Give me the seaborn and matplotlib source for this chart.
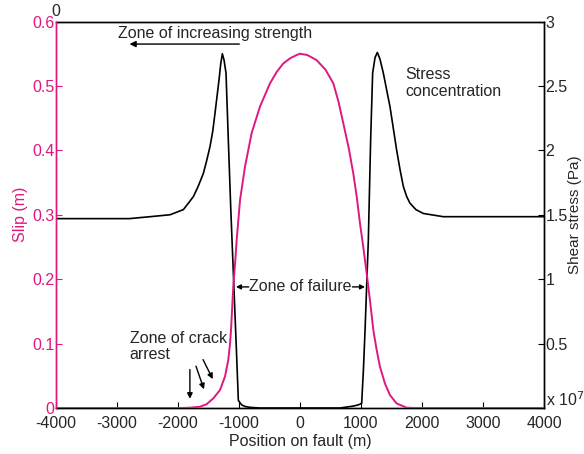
import numpy as np
import pandas as pd
import matplotlib
matplotlib.use("Agg")
import matplotlib.pyplot as plt
import seaborn as sns

# Slip along the fault (m)
slip_x = [-4000, -2500, -1950, -1803, -1639, -1530, -1421, -1311, -1229, -1175,
          -1147, -1131, -1093, -1060, -1038, -983, -901, -792, -656, -492, -380,
          -273, -160, -55, 0, 120, 273, 420, 546, 630, 710, 800, 874, 930, 983,
          1040, 1093, 1150, 1202, 1257, 1311, 1393, 1475, 1585, 1749, 1900, 4000]
slip_y = [0.0, 0.0, 0.0, 0.0005, 0.002, 0.006, 0.015, 0.028, 0.049, 0.075,
          0.1, 0.121, 0.19, 0.23, 0.261, 0.323, 0.375, 0.427, 0.468, 0.504, 0.522,
          0.535, 0.543, 0.548, 0.55, 0.548, 0.540, 0.525, 0.504, 0.476, 0.442, 0.403, 0.364, 0.328, 0.287,
          0.248, 0.209, 0.165, 0.121, 0.09, 0.064, 0.038, 0.02, 0.007, 0.0005, 0.0, 0.0]

# Shear stress along the fault (x 1e7 Pa)
stress_x = [-4000, -2800, -2459, -2131, -1912, -1830, -1749, -1670, -1585, -1530, -1475,
            -1430, -1393, -1360, -1327, -1300, -1273, -1245, -1213, -1175, -1136,
            -1093, -1049, -1011, -990, -956, -900, -820, -656,
            656, 800, 874, 960, 1011, 1040, 1066, 1120, 1158, 1191, 1230, 1268, 1310,
            1366, 1420, 1475, 1530, 1585, 1640, 1694, 1750, 1803, 1900, 2022,
            2350, 4000]
stress_y = [1.47, 1.47, 1.485, 1.50, 1.54, 1.59, 1.64, 1.72, 1.82, 1.92, 2.03,
            2.15, 2.29, 2.42, 2.55, 2.67, 2.75, 2.70, 2.60, 2.08, 1.56,
            1.05, 0.53, 0.06, 0.045, 0.024, 0.012, 0.005, 0.0,
            0.0, 0.01, 0.015, 0.025, 0.036, 0.3, 0.6, 1.30, 2.08, 2.60, 2.72, 2.76, 2.71,
            2.60, 2.47, 2.34, 2.17, 2.0, 1.85, 1.72, 1.64, 1.59, 1.54, 1.51,
            1.485, 1.485]

x_ticks = [-4000, -3000, -2000, -1000, 0, 1000, 2000, 3000, 4000]
slip_ticks = [0, 0.1, 0.2, 0.3, 0.4, 0.5, 0.6]
slip_labels = ["0", "0.1", "0.2", "0.3", "0.4", "0.5", "0.6"]
stress_ticks = [0, 0.5, 1, 1.5, 2, 2.5, 3]
stress_labels = ["", "0.5", "1", "1.5", "2", "2.5", "3"]

MAGENTA = "#E0177F"

sns.set_theme(style="white")
plt.rcParams["font.family"] = ["Liberation Sans", "DejaVu Sans"]
plt.rcParams["xtick.direction"] = "in"
plt.rcParams["ytick.direction"] = "in"

fig = plt.figure(figsize=(5.84, 4.54), dpi=100)
ax = fig.add_axes([0.0959, 0.1013, 0.8356, 0.8513])
ax2 = ax.twinx()

slip_df = pd.DataFrame({"x": slip_x, "slip": slip_y})
stress_df = pd.DataFrame({"x": stress_x, "stress": stress_y})

sns.lineplot(data=stress_df, x="x", y="stress", ax=ax2, color="black", lw=1.2)
sns.lineplot(data=slip_df, x="x", y="slip", ax=ax, color=MAGENTA, lw=1.4, zorder=5)
ax.set_zorder(ax2.get_zorder() + 1)
ax.patch.set_visible(False)

ax.set_xlim(-4000, 4000)
ax.set_ylim(0, 0.6)
ax2.set_ylim(0, 3)

fs = 11.5
ax.set_xticks(x_ticks)
ax.set_xticklabels([str(v) for v in x_ticks], fontsize=fs)
ax.set_yticks(slip_ticks)
ax.set_yticklabels(slip_labels, fontsize=fs, color=MAGENTA)
ax2.set_yticks(stress_ticks)
ax2.set_yticklabels(stress_labels, fontsize=fs)

ax.tick_params(axis="x", length=4, width=0.8, color="black", pad=6, bottom=True)
ax.tick_params(axis="y", length=4, width=0.8, color=MAGENTA, pad=1, left=True)
ax2.tick_params(axis="y", length=4, width=0.8, color="black", pad=1, right=True)

for a in (ax, ax2):
    for s in a.spines.values():
        s.set_linewidth(1.0)
        s.set_color("black")
ax.spines["left"].set_color(MAGENTA)
ax2.spines["left"].set_color(MAGENTA)
ax.spines["left"].set_zorder(10)

ax.set_xlabel("Position on fault (m)", fontsize=fs, labelpad=2)
ax.set_ylabel("Slip (m)", fontsize=fs, color=MAGENTA, labelpad=3)
ax2.set_ylabel("Shear stress (Pa)", fontsize=11, labelpad=0)

# annotations
fig.text(56 / 584, 1 - 12 / 454, "0", fontsize=fs, ha="center", va="center")
fig.text(546 / 584, 1 - 400 / 454, r"x 10$^{7}$", fontsize=fs, ha="left", va="center")

ax.text(-2990, 0.582, "Zone of increasing strength", fontsize=fs, ha="left", va="center")
ax.annotate("", xy=(-2840, 0.565), xytext=(-950, 0.565),
            arrowprops=dict(arrowstyle="-|>", color="black", lw=1.0, mutation_scale=9))

ax.text(1730, 0.505, "Stress\nconcentration", fontsize=fs, ha="left", va="center",
        linespacing=1.15)

ax.text(0, 0.188, "Zone of failure", fontsize=fs, ha="center", va="center")
ax.annotate("", xy=(-1050, 0.188), xytext=(-840, 0.188),
            arrowprops=dict(arrowstyle="-|>", color="black", lw=1.0, mutation_scale=7,
                            shrinkA=0, shrinkB=0))
ax.annotate("", xy=(1066, 0.188), xytext=(860, 0.188),
            arrowprops=dict(arrowstyle="-|>", color="black", lw=1.0, mutation_scale=7,
                            shrinkA=0, shrinkB=0))

ax.text(-2790, 0.096, "Zone of crack\narrest", fontsize=fs, ha="left", va="center",
        linespacing=1.1)
for (x0, y0, x1, y1) in [(-1805, 0.064, -1805, 0.01),
                         (-1720, 0.069, -1560, 0.025),
                         (-1610, 0.079, -1410, 0.041)]:
    ax.annotate("", xy=(x1, y1), xytext=(x0, y0),
                arrowprops=dict(arrowstyle="-|>", color="black", lw=1.0, mutation_scale=8))

fig.savefig("out.png", dpi=100)
